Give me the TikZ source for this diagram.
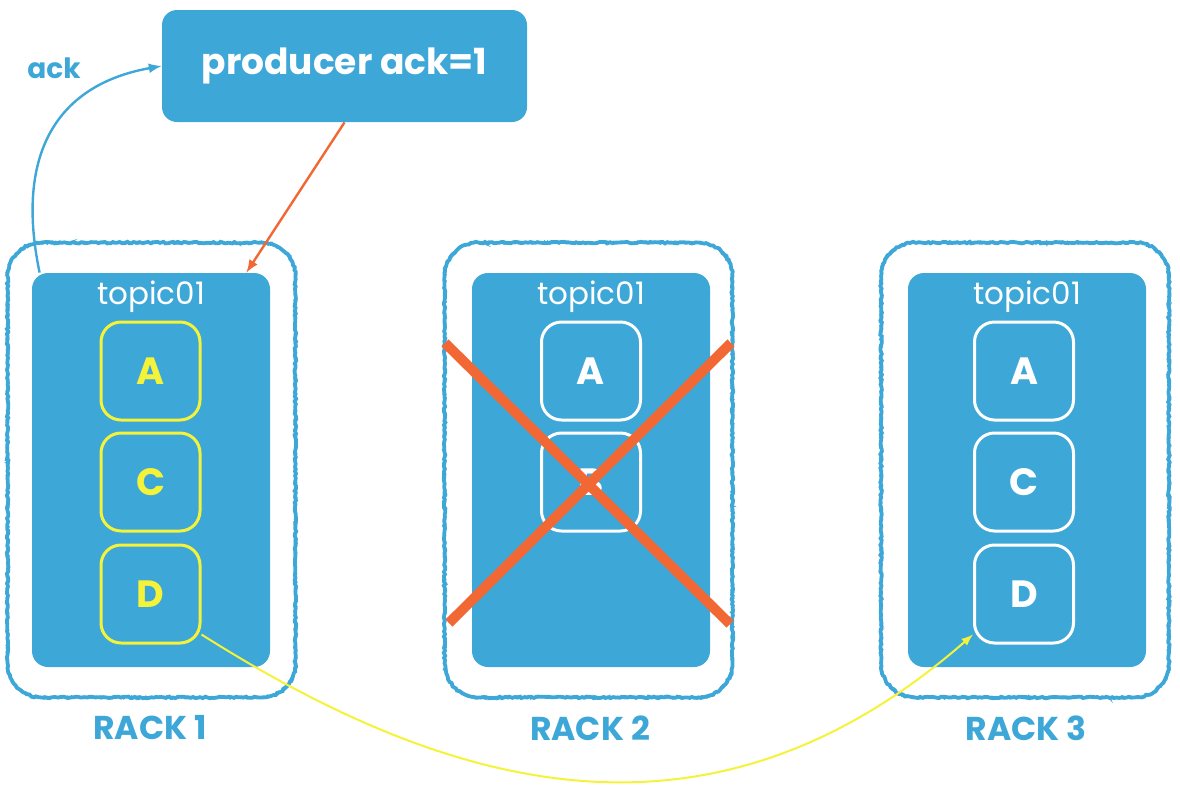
\documentclass[tikz,border=0pt]{standalone}
\usepackage{fontspec}
\setmainfont{Poppins}
\usetikzlibrary{arrows,shapes}
\usetikzlibrary{decorations.pathmorphing}

\definecolor{rackblue}{HTML}{3DA7D8}
\definecolor{crossred}{HTML}{F26835}
\definecolor{partyellow}{HTML}{F5F23A}

\tikzset{
	prodbox/.style={fill=rackblue, rounded corners=7.5pt, minimum width=182.5pt, minimum height=56pt, text=white, font=\bfseries\fontsize{18}{18}\selectfont},
	acklabel/.style={text=rackblue, font=\bfseries\fontsize{14}{14}\selectfont},
	rackspace/.style={minimum width=143.5pt, minimum height=227pt, inner sep=0pt},
	rackframe/.style={rackblue, line width=1.9pt, decoration={random steps, segment length=1.2pt, amplitude=0.4pt}},
	topicbox/.style={fill=rackblue, rounded corners=8pt, minimum width=119pt, minimum height=197pt, inner sep=0pt},
	topictext/.style={text=white, font=\fontsize{15.5}{15.5}\selectfont},
	partbox/.style={draw=white, line width=1.5pt, rounded corners=10pt, minimum width=49.5pt, minimum height=49pt, text=white, font=\bfseries\fontsize{19}{19}\selectfont},
	racklabel/.style={text=rackblue, font=\bfseries\fontsize{16.5}{16.5}\selectfont},
	crossline/.style={crossred, line width=5pt},
}

\begin{document}
\begin{tikzpicture}[x=0.5pt, y=-0.5pt]
	\useasboundingbox (0,0) rectangle (1180,794);

	\node[prodbox] (producer) at (344.5,66) {producer ack=1};
	\node[acklabel] (acklbl) at (54,68) {ack};

	% racks with their topic boxes
	\foreach \rx/\tx/\rn in {151.5/151/1, 588.5/591/2, 1025/1027/3} {
		\node[rackspace] (rack\rn) at (\rx,470) {};
		\draw[rackframe] decorate {[rounded corners=17pt] (rack\rn.north west) rectangle (rack\rn.south east)};
		\draw[rackframe, line width=0.8pt, decoration={random steps, segment length=1pt, amplitude=0.7pt}] decorate {[rounded corners=17pt] (rack\rn.north west) rectangle (rack\rn.south east)};
		\node[topicbox] (topic\rn) at (\tx,470) {};
		\node[topictext] (title\rn) at (\tx,297) {topic01};
		\node[racklabel] (label\rn) at (\tx-1,728) {RACK \rn};
	}

	% partitions
	\foreach \py/\pl in {371/A, 482/C, 594/D}
		\node[partbox, draw=partyellow, text=partyellow] (p1\pl) at (150.5,\py) {\pl};
	\foreach \py/\pl in {371/A, 482/B}
		\node[partbox] (p2\pl) at (591,\py) {\pl};
	\foreach \py/\pl in {371/A, 482/C, 594/D}
		\node[partbox] (p3\pl) at (1024,\py) {\pl};

	% broken rack
	\draw[crossline] (445,343) -- (730,624);
	\draw[crossline] (731,343) -- (449,623);

	\draw[rackblue, line width=1.2pt, -latex] ([xshift=4pt]topic1.north west) .. controls (14,150) and (60,84) .. (producer.west);
	\draw[crossred, line width=1.2pt, -latex] (producer.south) -- ([xshift=-12pt]topic1.north east);
	\draw[partyellow, line width=1pt, -latex] ([yshift=5pt]p1D.south east) .. controls (460,798) and (715,860) .. ([yshift=5pt]p3D.south west);

\end{tikzpicture}
\end{document}
